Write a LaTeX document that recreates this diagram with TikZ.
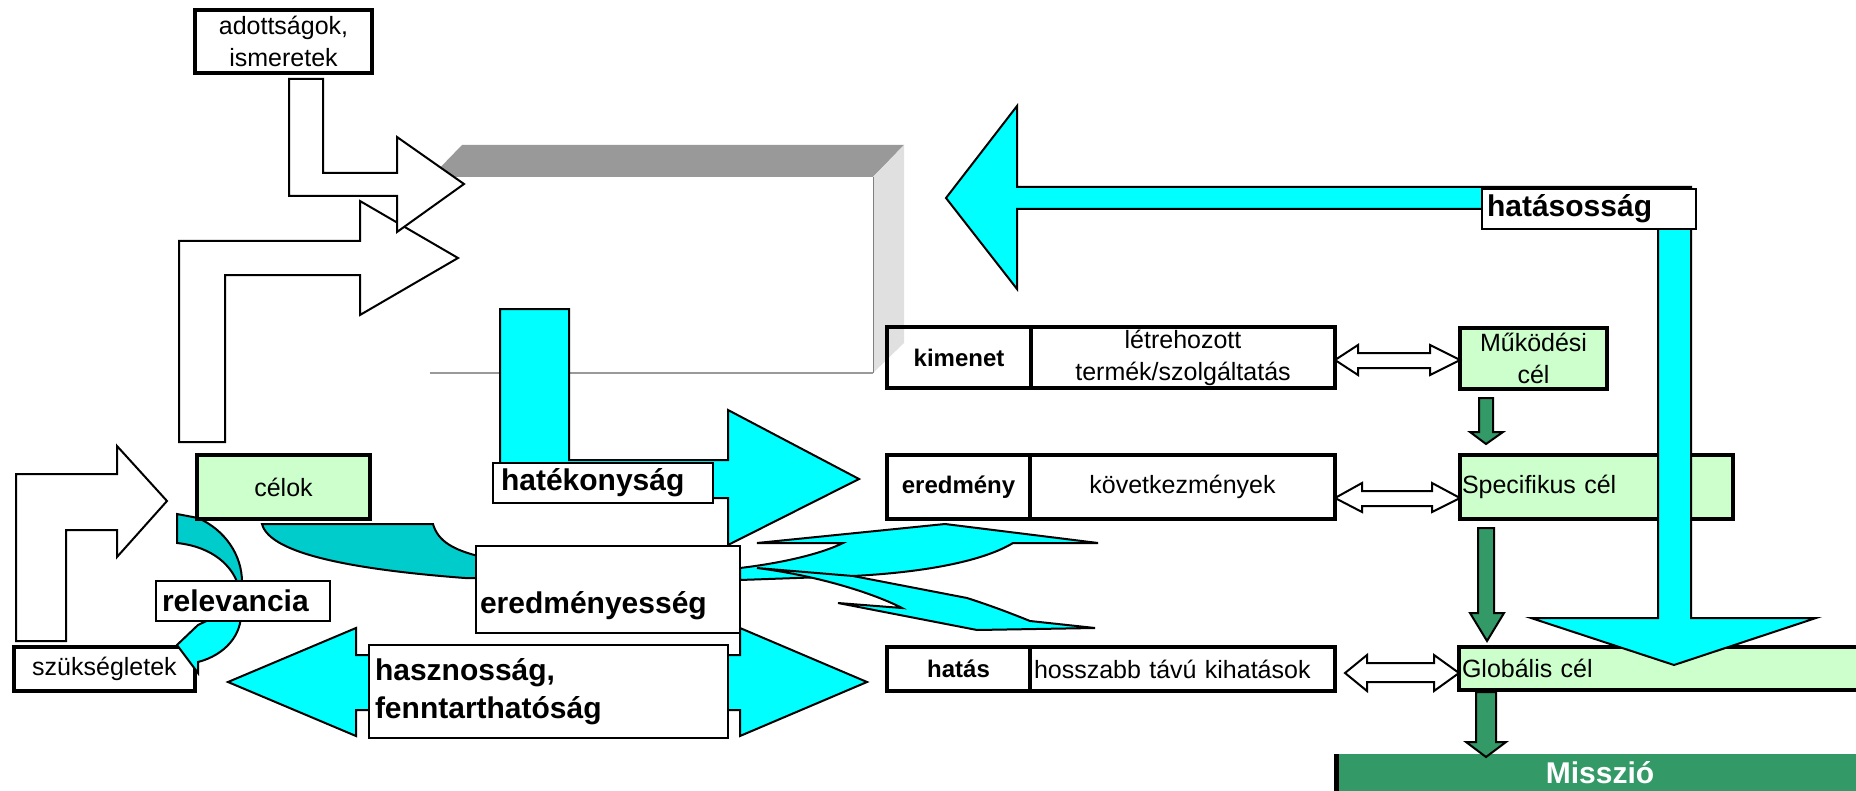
\documentclass[tikz,border=0pt]{standalone}
\usepackage{fontspec}
\setmainfont{Liberation Sans}
\definecolor{aqua}{HTML}{00FFFF}
\definecolor{tealband}{HTML}{00CCCC}
\definecolor{mintfill}{HTML}{CCFFCC}
\definecolor{seagreen}{HTML}{339966}
\definecolor{lidgrey}{HTML}{999999}
\definecolor{sidegrey}{HTML}{E0E0E0}
\newcommand\txtreg{\fontsize{12.5pt}{16pt}\selectfont}
\newcommand\txtbig{\fontsize{15pt}{19pt}\selectfont\bfseries}
\newcommand\txtsmb{\fontsize{12pt}{15pt}\selectfont\bfseries}
\begin{document}
\begin{tikzpicture}[x=0.5pt, y=-0.5pt,
  % a node spanning the rectangle from corner (#1,#2) to corner (#3,#4)
  spanbox/.style n args={4}{at={({(#1+#3)/2},{(#2+#4)/2})}, anchor=center,
    minimum width={(#3-#1)*0.5pt}, minimum height={(#4-#2)*0.5pt}},
  heavybox/.style={draw, line width=2pt, inner sep=0pt, outer sep=0pt, font=\txtreg, align=center},
  goalbox/.style={heavybox, fill=mintfill},
  labelbox/.style={draw, line width=0.8pt, fill=white, inner sep=0pt, outer sep=0pt, font=\txtbig, align=left},
  arrowskin/.style={draw, line width=1pt, line join=miter},
  hollow/.style={arrowskin, fill=white},
  aquaarrow/.style={arrowskin, fill=aqua},
  tealarrow/.style={arrowskin, fill=tealband},
  greenarrow/.style={arrowskin, fill=seagreen},
]
\useasboundingbox (0,0) rectangle (1856,791);
\clip (0,0) rectangle (1856,791);

% three-dimensional frame: lid, side face and floor line
\fill[lidgrey] (431,177) -- (462,145) -- (904,145) -- (873,177) -- cycle;
\fill[sidegrey] (873,177) -- (904,145) -- (904,343) -- (873,373) -- cycle;
\draw[gray, line width=0.4pt] (873,177) -- (873,373);
\draw[gray!80, line width=0.6pt] (430,373) -- (873,373);

% white bent arrows into the frame
\path[hollow] (179,442) -- (179,241) -- (360,241) -- (360,201) -- (458,258)
  -- (360,315) -- (360,275) -- (225,275) -- (225,442) -- cycle;
\path[hollow] (289,79) -- (323,79) -- (323,173) -- (397,173) -- (397,137)
  -- (464,184) -- (397,232) -- (397,196) -- (289,196) -- cycle;
% needs to goals
\path[hollow] (16,641) -- (16,474) -- (117,474) -- (117,446) -- (167,501)
  -- (117,557) -- (117,530) -- (66,530) -- (66,641) -- cycle;

% efficiency arrow
\path[aquaarrow] (500,309) -- (569,309) -- (569,460) -- (728,460) -- (728,410)
  -- (859,479) -- (728,545) -- (728,498) -- (500,498) -- cycle;

% band from the goals to effectiveness
\path[tealarrow] (262,524) -- (433,524) .. controls (438,542) and (455,550) .. (478,556)
  -- (478,578) -- (465,578) .. controls (360,570) and (270,555) .. (262,524) -- cycle;

% curved arrows leaving effectiveness
\path[aquaarrow] (740,568) .. controls (790,562) and (825,552) .. (843,543)
  -- (757,543) -- (945,524) -- (1098,543) -- (1013,543)
  .. controls (985,560) and (930,572) .. (853,576) -- (740,580) -- cycle;
\path[aquaarrow] (757,568) -- (853,576) -- (967,598)
  .. controls (995,607) and (1015,615) .. (1030,621) -- (1095,628) -- (977,630)
  -- (838,603) -- (902,608) .. controls (875,594) and (820,576) .. (757,568) -- cycle;

% utility / sustainability double arrow
\path[aquaarrow] (228,682) -- (356,628) -- (356,655) -- (740,655) -- (740,628)
  -- (867,682) -- (740,736) -- (740,710) -- (356,710) -- (356,736) -- cycle;

% relevance loop, upper band
\path[tealarrow] (177,514) -- (198,518) .. controls (225,530) and (242,555) .. (242,582)
  -- (237,582) .. controls (232,568) and (215,547) .. (177,543) -- cycle;

% boxes
\node[heavybox, spanbox={195}{10}{372}{73}] (adott) {adottságok,\\ismeretek};
\node[goalbox, spanbox={197}{455}{370}{519}] (celok) {célok};
\node[heavybox, spanbox={14}{647}{195}{691}] (szukseg) {szükségletek};

\node[heavybox, spanbox={887}{327}{1031}{388}, font=\txtsmb] (kimenet) {kimenet};
\node[heavybox, spanbox={1031}{327}{1335}{388}] (letre) {létrehozott\\termék/szolgáltatás};
\node[goalbox, spanbox={1460}{328}{1607}{389}] (mukodesi) {Működési\\cél};

\node[heavybox, spanbox={887}{455}{1030}{519}, font=\txtsmb] (eredmeny) {eredmény};
\node[heavybox, spanbox={1030}{455}{1335}{519}] (kovet) {következmények};
\node[goalbox, spanbox={1460}{455}{1733}{519}, align=left, text width=134.5pt] (specif) {Specifikus cél};

\node[heavybox, spanbox={887}{647}{1030}{691}, font=\txtsmb] (hatas) {hatás};
\node[heavybox, spanbox={1030}{647}{1335}{691}, align=left, text width=148.5pt] (hosszabb) {hosszabb távú kihatások};
\node[goalbox, spanbox={1459}{647}{1870}{690}, align=left, text width=202.5pt] (global) {Globális cél};

\node[spanbox={1334}{754}{1866}{800}, fill=seagreen, inner sep=0pt, outer sep=0pt,
  font=\txtbig, text=white, text depth=5pt] (misszio) {Misszió};
\draw[line width=2.5pt] ([xshift=1.25pt]misszio.north west) -- ([xshift=1.25pt]misszio.south west);

% relevance loop, lower band with its head
\path[aquaarrow] (241,612) .. controls (242,635) and (225,655) .. (198,662)
  -- (198,673) -- (177,645) -- (198,625) -- (217,616) -- cycle;

% hollow two-way arrows between levels and goals
\path[hollow] (letre.east |- 0,360) -- (1358,345) -- (1358,353) -- (1430,353) -- (1430,345)
  -- (mukodesi.west |- 0,360) -- (1430,375) -- (1430,368) -- (1358,368) -- (1358,375) -- cycle;
\path[hollow] (kovet.east |- 0,498) -- (1362,483) -- (1362,491) -- (1432,491) -- (1432,483)
  -- (specif.west |- 0,498) -- (1432,512) -- (1432,506) -- (1362,506) -- (1362,512) -- cycle;
\path[hollow] (1345,673) -- (1367,655) -- (1367,663) -- (1434,663) -- (1434,655)
  -- (global.west |- 0,673) -- (1434,691) -- (1434,682) -- (1367,682) -- (1367,691) -- cycle;

% goal hierarchy arrows
\path[greenarrow] (1479,398) -- (1493,398) -- (1493,432) -- (1503,432) -- (1486,444)
  -- (1470,432) -- (1479,432) -- cycle;
\path[greenarrow] (1478,528) -- (1494,528) -- (1494,613) -- (1504,613) -- (1487,641)
  -- (1470,613) -- (1478,613) -- cycle;
\path[greenarrow] (1476,692) -- (1496,692) -- (1496,742) -- (1506,742) -- (1486,757)
  -- (1466,742) -- (1476,742) -- cycle;

% impact arrow
\path[aquaarrow] (946,198) -- (1017,106) -- (1017,187) -- (1691,187) -- (1691,618)
  -- (1816,618) -- (1674,665) -- (1531,618) -- (1658,618) -- (1658,209)
  -- (1017,209) -- (1017,289) -- cycle;

% labels
\node[labelbox, spanbox={156}{581}{330}{621}, text width=81pt] (relev) {relevancia};
\node[labelbox, spanbox={493}{463}{713}{503}, text width=102pt] (hatekony) {hatékonyság};
\node[labelbox, spanbox={476}{546}{740}{633}, text width=128pt, text height=26.5pt, text depth=3pt] (eredmenyes) {eredményesség};
\node[labelbox, spanbox={369}{645}{728}{738}, text width=173.5pt] (haszn) {hasznosság,\\fenntarthatóság};
\node[labelbox, spanbox={1482}{189}{1696}{229}, text width=102pt] (hatasos) {hatásosság};
\end{tikzpicture}
\end{document}
